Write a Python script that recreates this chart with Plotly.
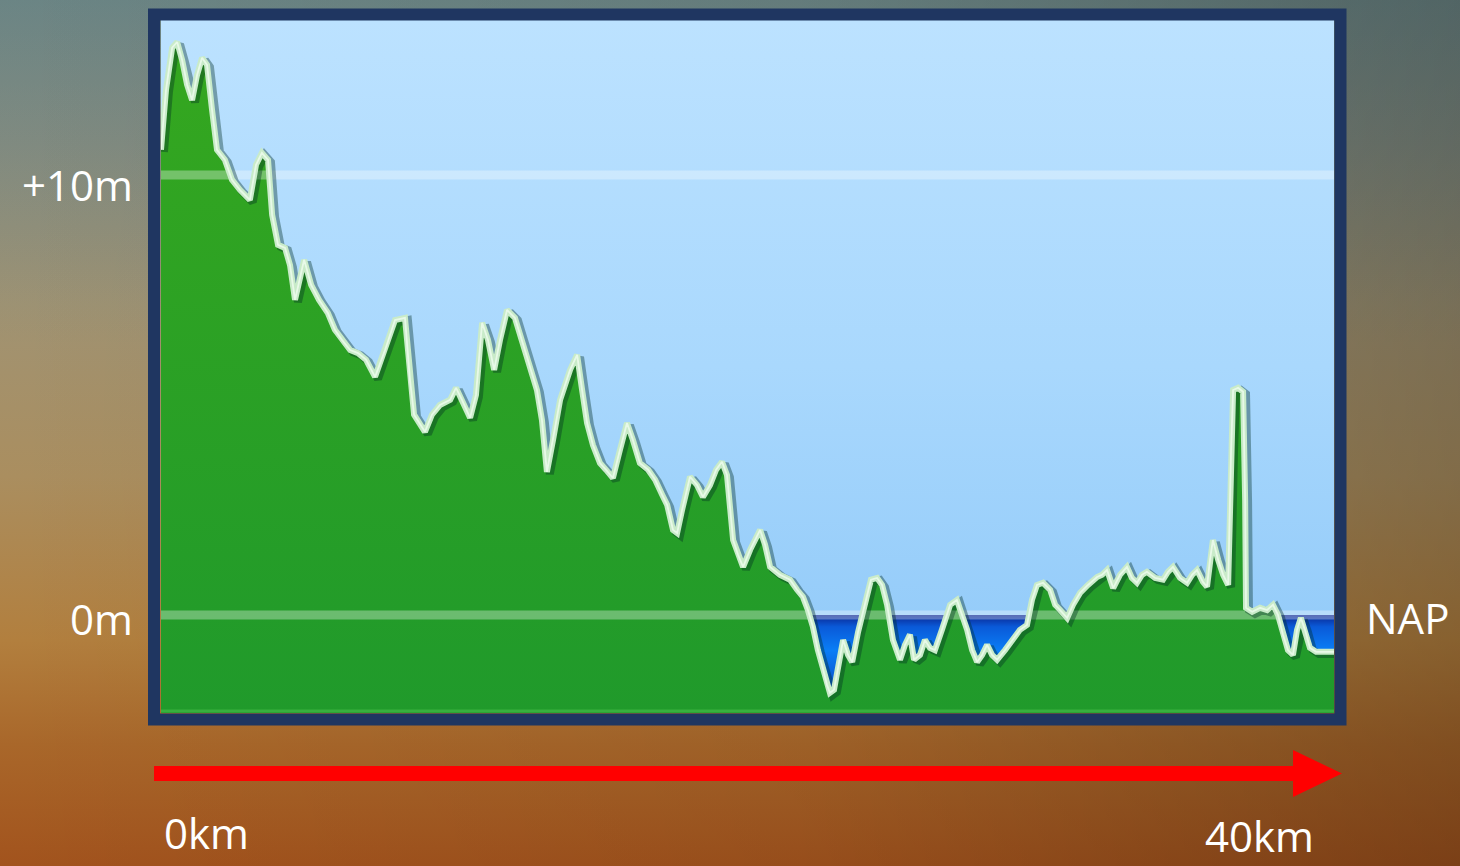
import base64
import plotly.graph_objects as go

# ---------------- data ----------------
DIST_KM = [0.00, 0.17, 0.38, 0.55, 0.72, 0.89, 1.06, 1.23, 1.40, 1.57, 1.74, 1.91, 2.18, 2.42, 2.69,
           3.03, 3.24, 3.44, 3.65, 3.79, 3.99, 4.23, 4.40, 4.57, 4.88, 5.12, 5.39, 5.69, 5.93, 6.17,
           6.45, 6.72, 6.99, 7.30, 7.64, 7.98, 8.32, 8.49, 8.63, 9.00, 9.24, 9.51, 9.86, 10.06, 10.26,
           10.54, 10.74, 10.95, 11.15, 11.36, 11.56, 11.80, 12.07, 12.24, 12.51, 12.82, 12.99, 13.16,
           13.37, 13.61, 13.95, 14.19, 14.36, 14.53, 14.73, 14.97, 15.17, 15.41, 15.65, 15.89, 16.09,
           16.33, 16.61, 16.85, 17.09, 17.26, 17.46, 17.60, 17.77, 18.04, 18.28, 18.48, 18.72, 18.93,
           19.13, 19.30, 19.51, 19.68, 19.85, 20.09, 20.43, 20.60, 20.77, 21.11, 21.45, 21.69, 21.89,
           22.06, 22.23, 22.40, 22.54, 22.71, 22.81, 22.95, 23.09, 23.26, 23.43, 23.57, 23.77, 23.91,
           24.08, 24.21, 24.42, 24.59, 24.76, 24.96, 25.20, 25.37, 25.54, 25.68, 25.88, 26.05, 26.22,
           26.39, 26.63, 26.91, 27.14, 27.31, 27.49, 27.66, 27.83, 28.00, 28.17, 28.34, 28.51, 28.78,
           29.05, 29.29, 29.53, 29.70, 29.87, 30.08, 30.32, 30.49, 30.66, 30.90, 31.10, 31.34, 31.61,
           31.92, 32.09, 32.26, 32.47, 32.70, 32.94, 33.11, 33.28, 33.45, 33.62, 33.90, 34.17, 34.34,
           34.51, 34.75, 34.99, 35.16, 35.33, 35.53, 35.67, 35.77, 35.87, 36.05, 36.22, 36.39, 36.49,
           36.56, 36.73, 36.90, 36.97, 37.00, 37.21, 37.48, 37.72, 37.92, 38.09, 38.26, 38.43, 38.60,
           38.74, 38.87, 39.01, 39.18, 39.39, 39.67, 40.00]

ELEV_M = [10.57, 11.93, 12.89, 13.02, 12.61, 12.05, 11.70, 12.27, 12.66, 12.50, 11.48, 10.57, 10.34,
          9.89, 9.66, 9.43, 10.23, 10.50, 10.34, 9.09, 8.41, 8.34, 7.95, 7.16, 8.07, 7.50, 7.16, 6.86,
          6.48, 6.25, 6.02, 5.95, 5.80, 5.41, 6.02, 6.70, 6.75, 5.34, 4.55, 4.16, 4.55, 4.77, 4.89,
          5.16, 4.89, 4.48, 5.00, 6.64, 6.25, 5.57, 6.25, 6.93, 6.75, 6.36, 5.80, 5.11, 4.43, 3.25,
          3.98, 4.89, 5.57, 5.91, 5.11, 4.36, 3.86, 3.45, 3.30, 3.11, 3.75, 4.36, 3.98, 3.45, 3.30,
          3.07, 2.73, 2.50, 1.93, 1.86, 2.39, 3.14, 2.95, 2.68, 2.95, 3.30, 3.48, 3.18, 1.70, 1.36,
          1.09, 1.48, 1.93, 1.59, 1.09, 0.91, 0.80, 0.57, 0.41, 0.11, -0.27, -0.80, -1.14, -1.59,
          -1.77, -1.70, -1.20, -0.57, -0.91, -1.07, -0.39, 0.00, 0.45, 0.80, 0.84, 0.68, 0.23, -0.57,
          -1.02, -0.68, -0.45, -1.02, -0.91, -0.57, -0.75, -0.80, -0.34, 0.23, 0.34, 0.00, -0.34,
          -0.80, -1.07, -0.91, -0.68, -0.91, -1.02, -0.80, -0.57, -0.34, -0.23, 0.34, 0.68, 0.73,
          0.57, 0.23, 0.11, -0.07, 0.23, 0.50, 0.68, 0.86, 0.91, 1.02, 0.61, 0.91, 1.09, 0.84, 0.73,
          0.91, 0.98, 0.84, 0.80, 0.98, 1.09, 0.84, 0.73, 0.91, 1.02, 0.75, 0.64, 1.25, 1.70, 1.25,
          0.91, 0.68, 3.75, 5.11, 5.16, 5.07, 2.61, 0.16, 0.07, 0.16, 0.11, 0.23, 0.00, -0.45, -0.80,
          -0.91, -0.34, -0.07, -0.34, -0.75, -0.84, -0.84, -0.84]

GRID_LEVELS = [10, 0]
Y_LABELS = ["+10m", "0m"]
X_LABELS = ["0km", "40km"]
RIGHT_LABEL = "NAP"

X_RANGE = [0, 40]
Y_RANGE = [-2.23, 13.52]

# ---------------- layout geometry ----------------
W, H = 1460, 866
L, R, T, B = 161, 126, 20, 153
PW, PH = W - L - R, H - T - B


def pxx(x):
    return (x - L) / PW


def pyy(y):
    return (H - B - y) / PH


def svg_uri(svg):
    return "data:image/svg+xml;base64," + base64.b64encode(svg.encode()).decode()


BG_SVG = """<svg xmlns="http://www.w3.org/2000/svg" width="1460" height="866" viewBox="0 0 1460 866" preserveAspectRatio="none">
<defs>
<linearGradient id="v" x1="0" y1="0" x2="0" y2="1">
<stop offset="0" stop-color="#7f8c88"/>
<stop offset="0.17" stop-color="#8e8f81"/>
<stop offset="0.35" stop-color="#a09373"/>
<stop offset="0.55" stop-color="#aa8e5f"/>
<stop offset="0.74" stop-color="#b27f3e"/>
<stop offset="0.86" stop-color="#a9672a"/>
<stop offset="1" stop-color="#a2531d"/>
</linearGradient>
<linearGradient id="h" x1="0" y1="0" x2="1" y2="0">
<stop offset="0" stop-color="#000" stop-opacity="0"/>
<stop offset="0.55" stop-color="#000" stop-opacity="0.07"/>
<stop offset="1" stop-color="#000" stop-opacity="0.24"/>
</linearGradient>
<linearGradient id="t" x1="0" y1="0" x2="0" y2="1">
<stop offset="0" stop-color="#2f6f7a" stop-opacity="0.25"/>
<stop offset="0.4" stop-color="#2f6f7a" stop-opacity="0"/>
</linearGradient>
</defs>
<rect width="1460" height="866" fill="url(#v)"/>
<rect width="1460" height="866" fill="url(#t)"/>
<rect width="1460" height="866" fill="url(#h)"/>
</svg>"""

SKY_SVG = """<svg xmlns="http://www.w3.org/2000/svg" width="100" height="100" viewBox="0 0 100 100" preserveAspectRatio="none">
<defs><linearGradient id="s" x1="0" y1="0" x2="0" y2="1">
<stop offset="0" stop-color="#bce2ff"/>
<stop offset="0.5" stop-color="#a9d8fd"/>
<stop offset="1" stop-color="#8ec8f8"/>
</linearGradient></defs>
<rect width="100" height="100" fill="url(#s)"/>
</svg>"""

fig = go.Figure()

# water: everything below NAP, later covered by ground
fig.add_trace(go.Scatter(x=X_RANGE, y=[Y_RANGE[0]] * 2, mode="lines", line=dict(width=0),
                         hoverinfo="skip", showlegend=False))
fig.add_trace(go.Scatter(x=X_RANGE, y=[0, 0], mode="lines", line=dict(width=0), fill="tonexty",
                         fillgradient=dict(type="vertical", start=-1.8, stop=0,
                                           colorscale=[[0, "#0a4cc4"], [0.55, "#0a7ef6"],
                                                       [0.85, "#0a5ad8"], [1, "#0a2590"]]),
                         hoverinfo="skip", showlegend=False))

# ground
fig.add_trace(go.Scatter(x=X_RANGE, y=[Y_RANGE[0]] * 2, mode="lines", line=dict(width=0),
                         hoverinfo="skip", showlegend=False))
fig.add_trace(go.Scatter(x=DIST_KM, y=ELEV_M, mode="lines", line=dict(width=0), fill="tonexty",
                         fillgradient=dict(type="vertical", start=Y_RANGE[0], stop=13.0,
                                           colorscale=[[0, "#209a2b"], [1, "#35a71f"]]),
                         hoverinfo="skip", showlegend=False))

# level bands
for lvl in GRID_LEVELS:
    fig.add_trace(go.Scatter(x=X_RANGE, y=[lvl, lvl], mode="lines",
                             line=dict(color="rgba(255,255,255,0.33)", width=9),
                             hoverinfo="skip", showlegend=False))

# profile line: shadow, pale body, light core
fig.add_trace(go.Scatter(x=[d + 0.1 for d in DIST_KM], y=[e - 0.05 for e in ELEV_M], mode="lines",
                         line=dict(color="rgba(0,45,35,0.38)", width=8),
                         hoverinfo="skip", showlegend=False))
fig.add_trace(go.Scatter(x=DIST_KM, y=ELEV_M, mode="lines",
                         line=dict(color="#c9ebc9", width=6),
                         hoverinfo="skip", showlegend=False))
fig.add_trace(go.Scatter(x=DIST_KM, y=ELEV_M, mode="lines",
                         line=dict(color="rgba(245,255,245,0.7)", width=1.8),
                         hoverinfo="skip", showlegend=False))

images = [
    dict(source=svg_uri(BG_SVG), xref="paper", yref="paper", x=pxx(0), y=pyy(0),
         sizex=W / PW, sizey=H / PH, xanchor="left", yanchor="top", sizing="stretch", layer="below"),
    dict(source=svg_uri(SKY_SVG), xref="x", yref="y", x=X_RANGE[0], y=Y_RANGE[1],
         sizex=X_RANGE[1] - X_RANGE[0], sizey=Y_RANGE[1] - Y_RANGE[0],
         xanchor="left", yanchor="top", sizing="stretch", layer="below"),
]

shapes = [
    # light bottom edge of ground
    dict(type="line", xref="paper", yref="paper", x0=0, x1=1, y0=pyy(711), y1=pyy(711),
         line=dict(color="#38b03e", width=3), layer="above"),
    # navy frame
    dict(type="rect", xref="paper", yref="paper", x0=pxx(154), x1=pxx(1340.5),
         y0=pyy(719.5), y1=pyy(14.5), line=dict(color="#1f3661", width=12), layer="above"),
    # red arrow
    dict(type="path", xref="paper", yref="paper",
         path=(f"M {pxx(154)},{pyy(766)} L {pxx(1293)},{pyy(766)} L {pxx(1293)},{pyy(750)} "
               f"L {pxx(1342)},{pyy(773.5)} L {pxx(1293)},{pyy(797)} L {pxx(1293)},{pyy(781)} "
               f"L {pxx(154)},{pyy(781)} Z"),
         fillcolor="#ff0000", line=dict(width=0), layer="above"),
]

FONT = dict(family="Open Sans, Lato, sans-serif", size=42, color="white")
annotations = [
    dict(text=Y_LABELS[0], xref="paper", yref="paper", x=pxx(134), y=pyy(184),
         xanchor="right", yanchor="middle", showarrow=False, font=FONT, borderpad=0),
    dict(text=Y_LABELS[1], xref="paper", yref="paper", x=pxx(134), y=pyy(618),
         xanchor="right", yanchor="middle", showarrow=False, font=FONT, borderpad=0),
    dict(text=RIGHT_LABEL, xref="paper", yref="paper", x=pxx(1365), y=pyy(617),
         xanchor="left", yanchor="middle", showarrow=False, font=FONT, borderpad=0),
    dict(text=X_LABELS[0], xref="paper", yref="paper", x=pxx(163), y=pyy(832),
         xanchor="left", yanchor="middle", showarrow=False, font=FONT, borderpad=0),
    dict(text=X_LABELS[1], xref="paper", yref="paper", x=pxx(1315), y=pyy(865),
         xanchor="right", yanchor="bottom", showarrow=False, font=FONT, borderpad=0),
]

fig.update_layout(
    width=W, height=H,
    margin=dict(l=L, r=R, t=T, b=B, autoexpand=False),
    paper_bgcolor="#9a7a55", plot_bgcolor="rgba(0,0,0,0)",
    showlegend=False,
    xaxis=dict(range=X_RANGE, visible=False, fixedrange=True),
    yaxis=dict(range=Y_RANGE, visible=False, fixedrange=True),
    images=images, shapes=shapes, annotations=annotations,
)

fig.write_html("out.html", config={"displayModeBar": False},
               post_script="document.body.style.margin='0';document.body.style.overflow='hidden';")
